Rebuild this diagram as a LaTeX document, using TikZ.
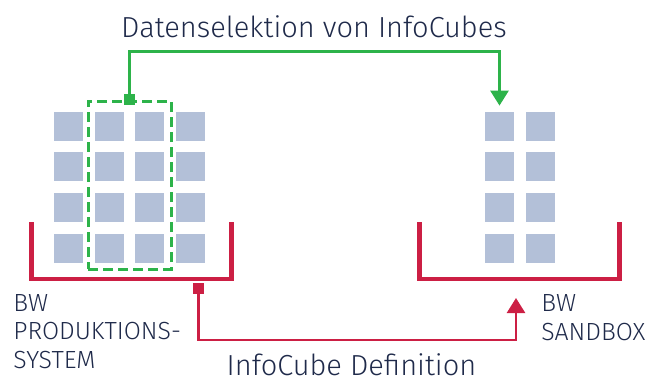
\documentclass[tikz,border=0pt]{standalone}
\usepackage{fontspec}
\setmainfont{Fira Sans Light}
\usetikzlibrary{arrows.meta}
\definecolor{cubecol}{HTML}{B3C0D8}
\definecolor{selcol}{HTML}{2DB34A}
\definecolor{defcol}{HTML}{CC1F44}
\definecolor{txtcol}{HTML}{1F2A4A}
\tikzset{cube/.style = {shape=rectangle,fill=cubecol,minimum size=14.5pt,inner sep=0pt}}
\tikzset{marker/.style = {shape=rectangle,minimum size=5.5pt,inner sep=0pt}}
\tikzset{bin/.style = {draw=defcol,line width=2.3pt}}
\tikzset{title/.style = {text=txtcol,font=\fontsize{14.5}{17}\selectfont,anchor=base,inner sep=0pt}}
\tikzset{boxname/.style = {text=txtcol,font=\fontsize{12.4}{14.25}\selectfont,align=left,anchor=base west,inner sep=0pt}}
\tikzset{>={Triangle[width=9pt,length=7.5pt]}}

\begin{document}
\begin{tikzpicture}[x=0.5pt,y=-0.5pt]
                    \useasboundingbox (0,0) rectangle (653,381);

                    % InfoCubes
                    \foreach \c/\x in {1/68.5,2/109.5,3/149.5,4/190.5}
                      \foreach \r/\y in {1/126.5,2/166.5,3/207.5,4/248.5}
                        \node[cube] (P\r\c) at (\x,\y) {};
                    \foreach \c/\x in {1/499.5,2/540.5}
                      \foreach \r/\y in {1/126.5,2/166.5,3/207.5,4/248.5}
                        \node[cube] (S\r\c) at (\x,\y) {};

                    % Selektion
                    \node[draw=selcol,line width=1.5pt,dash pattern=on 5pt off 2.5pt,
                          minimum width=41.5pt,minimum height=84pt,inner sep=0pt] (sel) at (129.5,185) {};
                    \node[marker,fill=selcol] (selmk) at (sel.north) {};

                    % Systeme
                    \draw[bin] (31.5,222) -- (31.5,279) -- (231.5,279) -- (231.5,222);
                    \draw[bin] (419.5,222) -- (419.5,279) -- (619.5,279) -- (619.5,222);
                    \node[marker,fill=defcol] (defmk) at (198.5,288.5) {};
                    \coordinate (sbx) at (516,298);

                    \node[boxname] (prod) at (13,368) {BW\\PRODUKTIONS-\\SYSTEM};
                    \node[boxname] (sand) at (541,340) {BW\\SANDBOX};

                    \node[title] (seltxt) at (314,37) {Datenselektion von InfoCubes};
                    \node[title] (deftxt) at (351.5,375.5) {InfoCube Definition};

                    \draw[selcol,line width=1.4pt,->,shorten >=3pt] (selmk.center) -- ++(0,-48) -| (S11.north);
                    \draw[defcol,line width=1.3pt,->] (defmk.center) -- ++(0,51.5) -| (sbx);
                \end{tikzpicture}
\end{document}
